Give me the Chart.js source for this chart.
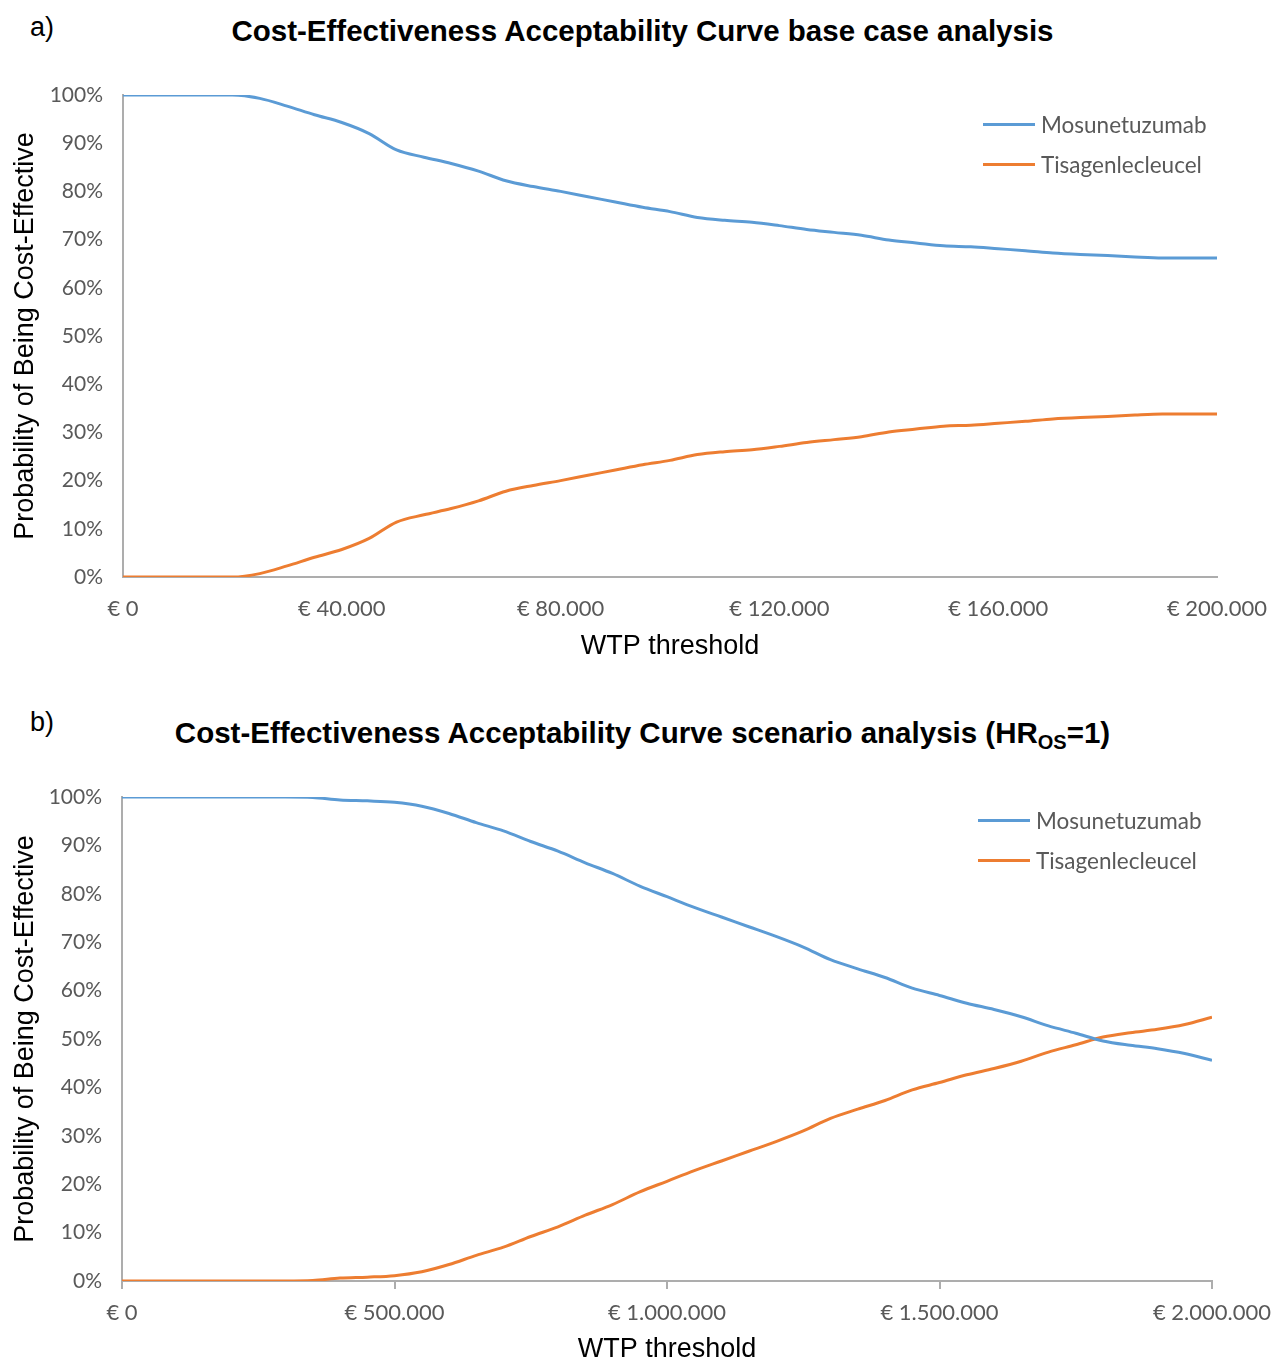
<!DOCTYPE html>
<html>
<head>
<meta charset="utf-8">
<script src="https://cdn.jsdelivr.net/npm/chart.js@4/dist/chart.umd.min.js"></script>
<style>
  html, body { margin: 0; padding: 0; background: #fff; }
  body { width: 1273px; height: 1361px; overflow: hidden; position: relative; font-family: "Liberation Sans", Arial, sans-serif; }
  .panel { position: absolute; left: 0; }
  .tag { position: absolute; left: 30px; font-size: 27px; color: #000; line-height: 30px; }
  .title { position: absolute; left: 0; width: 1285px; text-align: center; font-weight: bold; font-size: 29.5px; line-height: 32px; color: #000; white-space: nowrap; }
  .title sub { font-size: 20px; vertical-align: -6px; line-height: 0; }
  .legend { position: absolute; font-family: Lato, "Open Sans", sans-serif; font-size: 22.5px; color: #595959; }
  .legend .row { position: absolute; left: 0; height: 30px; white-space: nowrap; }
  .legend .sw { position: absolute; left: 0; top: 13px; width: 52px; height: 3px; }
  .legend .lab { position: absolute; left: 58px; top: 0; line-height: 30px; }
</style>
</head>
<body>
<div class="tag" style="top:12px">a)</div>
<div class="title" style="top:15px">Cost-Effectiveness Acceptability Curve base case analysis</div>
<div class="panel" style="top:0;width:1273px;height:680px"><canvas id="chartA" width="1273" height="680"></canvas></div>
<div class="legend" style="left:983px;top:110px">
  <div class="row" style="top:0"><div class="sw" style="background:#5B9BD5"></div><div class="lab">Mosunetuzumab</div></div>
  <div class="row" style="top:40px"><div class="sw" style="background:#ED7D31"></div><div class="lab">Tisagenlecleucel</div></div>
</div>

<div class="tag" style="top:707px">b)</div>
<div class="title" style="top:717px">Cost-Effectiveness Acceptability Curve scenario analysis (HR<sub>OS</sub>=1)</div>
<div class="panel" style="top:690px;width:1273px;height:690px"><canvas id="chartB" width="1273" height="690"></canvas></div>
<div class="legend" style="left:978px;top:806px">
  <div class="row" style="top:0"><div class="sw" style="background:#5B9BD5"></div><div class="lab">Mosunetuzumab</div></div>
  <div class="row" style="top:40px"><div class="sw" style="background:#ED7D31"></div><div class="lab">Tisagenlecleucel</div></div>
</div>

<script>
// ---------- Data: panel a (base case) ----------
const wtpA = [0,5000,10000,15000,20000,25000,30000,35000,40000,45000,50000,55000,60000,65000,70000,75000,80000,85000,90000,95000,100000,105000,110000,115000,120000,125000,130000,135000,140000,145000,150000,155000,160000,165000,170000,175000,180000,185000,190000,195000,200000];
const mosunetuzumabA = [100,100,100,100,100,99.3,97.7,95.9,94.3,92.0,88.6,87.1,85.8,84.2,82.2,81.0,80.0,78.9,77.8,76.7,75.8,74.6,74.0,73.6,72.9,72.1,71.5,70.9,69.9,69.3,68.7,68.5,68.1,67.7,67.2,66.9,66.7,66.4,66.2,66.2,66.2];
const tisagenlecleucelA = [0,0,0,0,0,0.7,2.3,4.1,5.7,8.0,11.4,12.9,14.2,15.8,17.8,19.0,20.0,21.1,22.2,23.3,24.2,25.4,26.0,26.4,27.1,27.9,28.5,29.1,30.1,30.7,31.3,31.5,31.9,32.3,32.8,33.1,33.3,33.6,33.8,33.8,33.8];
const xTicksA = [0,40000,80000,120000,160000,200000];

// ---------- Data: panel b (scenario HR_OS = 1) ----------
const wtpB = [0,50000,100000,150000,200000,250000,300000,350000,400000,450000,500000,550000,600000,650000,700000,750000,800000,850000,900000,950000,1000000,1050000,1100000,1150000,1200000,1250000,1300000,1350000,1400000,1450000,1500000,1550000,1600000,1650000,1700000,1750000,1800000,1850000,1900000,1950000,2000000];
const mosunetuzumabB = [100,100,100,100,100,100,100,99.9,99.4,99.2,98.9,98.1,96.6,94.7,93.0,90.8,88.8,86.4,84.2,81.6,79.4,77.2,75.2,73.2,71.2,69.0,66.4,64.5,62.7,60.5,59.0,57.4,56.1,54.6,52.7,51.2,49.6,48.7,48.0,47.0,45.6];
const tisagenlecleucelB = [0,0,0,0,0,0,0,0.1,0.6,0.8,1.1,1.9,3.4,5.3,7.0,9.2,11.2,13.6,15.8,18.4,20.6,22.8,24.8,26.8,28.8,31.0,33.6,35.5,37.3,39.5,41.0,42.6,43.9,45.4,47.3,48.8,50.4,51.3,52.0,53.0,54.5];
const xTicksB = [0,500000,1000000,1500000,2000000];

const seriesNames = ["Mosunetuzumab", "Tisagenlecleucel"];
const yTicks = [0,10,20,30,40,50,60,70,80,90,100];

const BLUE = "#5B9BD5", ORANGE = "#ED7D31", AXIS = "#ADADAD", TICKTXT = "#595959";
const yTickFont = { family: "Lato, 'Open Sans', sans-serif", size: 21 };
const xTickFont = { family: "Lato, 'Open Sans', sans-serif", size: 22 };
const titleFont = { family: "'Liberation Sans', Arial, sans-serif", size: 27 };

function euro(v) {
  return "€ " + Math.round(v).toString().replace(/\B(?=(\d{3})+(?!\d))/g, ".");
}
function pts(xs, ys) { return xs.map((x, i) => ({ x: x, y: ys[i] })); }
function noPad(s) { s.paddingLeft = 0; s.paddingRight = 0; s.paddingTop = 0; s.paddingBottom = 0; }

function makeChart(id, xs, mos, tis, xTicks, xMax, cfg) {
  return new Chart(document.getElementById(id), {
    type: "line",
    data: {
      datasets: [
        { label: seriesNames[0], data: pts(xs, mos), borderColor: BLUE, borderWidth: 3, pointRadius: 0, cubicInterpolationMode: "monotone", fill: false },
        { label: seriesNames[1], data: pts(xs, tis), borderColor: ORANGE, borderWidth: 3, pointRadius: 0, cubicInterpolationMode: "monotone", fill: false }
      ]
    },
    options: {
      responsive: false,
      animation: false,
      events: [],
      layout: { autoPadding: false, padding: { top: cfg.padTop, right: cfg.padRight, bottom: 0, left: 0 } },
      plugins: { legend: { display: false }, title: { display: false }, tooltip: { enabled: false } },
      scales: {
        x: {
          type: "linear",
          min: 0, max: xMax,
          afterBuildTicks: (s) => { s.ticks = xTicks.map(v => ({ value: v })); },
          afterFit: (s) => { s.height = cfg.xHeight; noPad(s); },
          ticks: { callback: (v) => euro(v), color: TICKTXT, font: xTickFont, padding: cfg.xTickPad, maxRotation: 0, autoSkip: false },
          grid: { display: cfg.xTickMarks, drawOnChartArea: false, drawTicks: cfg.xTickMarks, tickLength: 8, color: AXIS, lineWidth: 2 },
          border: { display: true, color: AXIS, width: 2 },
          title: { display: true, text: "WTP threshold", color: "#000", font: titleFont, padding: { top: 0, bottom: cfg.xTitlePad } }
        },
        y: {
          min: 0, max: 100,
          afterBuildTicks: (s) => { s.ticks = yTicks.map(v => ({ value: v })); },
          afterFit: (s) => { s.width = cfg.yWidth; noPad(s); },
          ticks: { callback: (v) => v + "%", color: TICKTXT, font: yTickFont, padding: 20 },
          grid: { display: false, drawTicks: false },
          border: { display: true, color: AXIS, width: 2 },
          title: { display: true, text: "Probability of Being Cost-Effective", color: "#000", font: titleFont, padding: { top: 9, bottom: 0 } }
        }
      }
    }
  });
}

makeChart("chartA", wtpA, mosunetuzumabA, tisagenlecleucelA, xTicksA, 200000,
  { padTop: 95, padRight: 56, xHeight: 103, xTickPad: 19, xTickMarks: false, xTitlePad: 17, yWidth: 123 });
makeChart("chartB", wtpB, mosunetuzumabB, tisagenlecleucelB, xTicksB, 2000000,
  { padTop: 107, padRight: 61, xHeight: 99, xTickPad: 11, xTickMarks: true, xTitlePad: 14, yWidth: 122 });
</script>
</body>
</html>
